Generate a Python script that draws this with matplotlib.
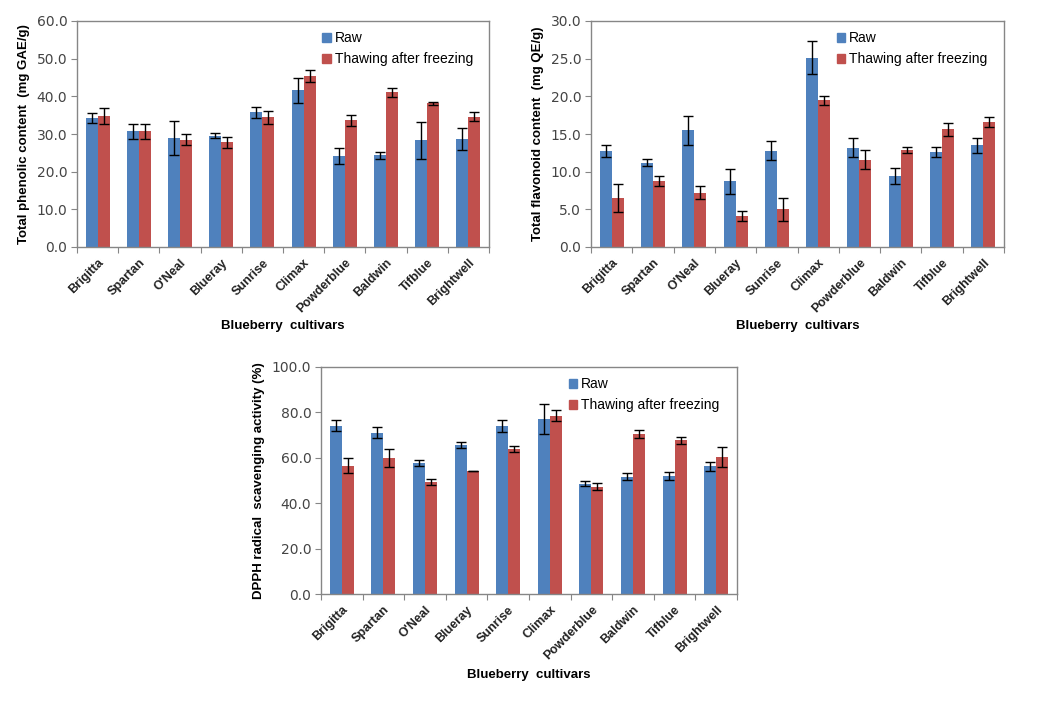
import numpy as np
import matplotlib.pyplot as plt
from matplotlib.patches import Patch

# cultivars on the x axis
cultivars = ["Brigitta", "Spartan", "O'Neal", "Blueray", "Sunrise",
             "Climax", "Powderblue", "Baldwin", "Tifblue", "Brightwell"]

# Total phenolic content (mg GAE/g)
phen_raw = [34.2, 30.7, 28.9, 29.6, 35.8, 41.6, 24.2, 24.3, 28.3, 28.7]
phen_raw_err = [1.3, 2.0, 4.6, 0.6, 1.5, 3.4, 2.2, 1.0, 4.9, 2.9]
phen_thaw = [34.7, 30.7, 28.5, 27.8, 34.4, 45.3, 33.6, 41.1, 38.1, 34.6]
phen_thaw_err = [2.1, 1.9, 1.4, 1.5, 1.7, 1.6, 1.5, 1.2, 0.3, 1.2]

# Total flavonoid content (mg QE/g)
flav_raw = [12.7, 11.2, 15.5, 8.7, 12.8, 25.1, 13.2, 9.4, 12.6, 13.5]
flav_raw_err = [0.8, 0.5, 1.9, 1.6, 1.3, 2.2, 1.3, 1.1, 0.7, 1.0]
flav_thaw = [6.5, 8.8, 7.2, 4.1, 5.0, 19.5, 11.6, 12.9, 15.6, 16.6]
flav_thaw_err = [1.9, 0.65, 0.85, 0.7, 1.5, 0.6, 1.3, 0.4, 0.85, 0.7]

# DPPH radical scavenging activity (%)
dpph_raw = [74.2, 71.1, 57.7, 65.6, 74.0, 77.2, 48.6, 51.7, 52.1, 56.2]
dpph_raw_err = [2.6, 2.5, 1.5, 1.4, 2.5, 6.7, 1.2, 1.6, 1.8, 2.1]
dpph_thaw = [56.6, 59.9, 49.3, 54.1, 64.0, 78.6, 47.3, 70.5, 67.7, 60.4]
dpph_thaw_err = [3.4, 3.8, 1.3, 0.1, 1.3, 2.3, 1.6, 1.7, 1.5, 4.4]

blue = "#4F81BD"
red = "#C0504D"
grey = "#868686"
W, H = 1042, 722

plt.rcParams["font.family"] = ["Liberation Sans", "DejaVu Sans"]


def draw(rect, raw, raw_err, thaw, thaw_err, ymax, step, ylabel, xlabel_y):
    ax = fig.add_axes(rect)
    x = np.arange(len(cultivars))
    bw = 0.29
    ekw = dict(ecolor="black", elinewidth=1, capsize=3.5, capthick=1)
    ax.bar(x - bw / 2, raw, bw, color=blue, yerr=raw_err, error_kw=ekw)
    ax.bar(x + bw / 2, thaw, bw, color=red, yerr=thaw_err, error_kw=ekw)
    ax.set_xlim(-0.5, len(cultivars) - 0.5)
    ax.set_ylim(0, ymax)
    yt = np.arange(0, ymax + step / 2, step)
    ax.set_yticks(yt)
    ax.set_yticklabels([f"{v:.1f}" for v in yt], family="DejaVu Sans",
                       fontsize=10, color="#444444")
    # category boundaries carry the tick marks, names sit at the centres
    ax.set_xticks(np.arange(-0.5, len(cultivars)))
    ax.set_xticklabels([])
    ax.set_xticks(x, minor=True)
    ax.set_xticklabels(cultivars, minor=True, rotation=45, ha="right",
                       rotation_mode="anchor", fontsize=9, fontweight="bold",
                       color="#222222")
    ax.tick_params(axis="x", which="major", length=4, color=grey)
    ax.tick_params(axis="x", which="minor", length=0, pad=7)
    ax.tick_params(axis="y", length=4, color=grey, pad=3)
    for s in ax.spines.values():
        s.set_color(grey)
        s.set_linewidth(1)
    ax.set_ylabel(ylabel, fontsize=9.5, fontweight="bold", labelpad=5)
    fig.text(rect[0] + rect[2] / 2, xlabel_y, "Blueberry  cultivars",
             ha="center", va="center", fontsize=9.5, fontweight="bold")
    handles = [Patch(color=blue, label="Raw"),
               Patch(color=red, label="Thawing after freezing")]
    ax.legend(handles=handles, loc="upper left", bbox_to_anchor=(0.565, 1.01),
              frameon=False, handlelength=0.6, handleheight=0.6,
              handletextpad=0.3, labelspacing=0.5, fontsize=10)
    return ax


fig = plt.figure(figsize=(W / 100, H / 100), dpi=100)

draw([77 / W, 1 - 247 / H, 412 / W, 226 / H], phen_raw, phen_raw_err,
     phen_thaw, phen_thaw_err, 60, 10,
     "Total phenolic content  (mg GAE/g)", 1 - 326 / H)
draw([591 / W, 1 - 247 / H, 413 / W, 226 / H], flav_raw, flav_raw_err,
     flav_thaw, flav_thaw_err, 30, 5,
     "Total flavonoid content  (mg QE/g)", 1 - 326 / H)
draw([321 / W, 1 - 594 / H, 416 / W, 227 / H], dpph_raw, dpph_raw_err,
     dpph_thaw, dpph_thaw_err, 100, 20,
     "DPPH radical  scavenging activity (%)", 1 - 675 / H)

fig.savefig("out.png", dpi=100)
